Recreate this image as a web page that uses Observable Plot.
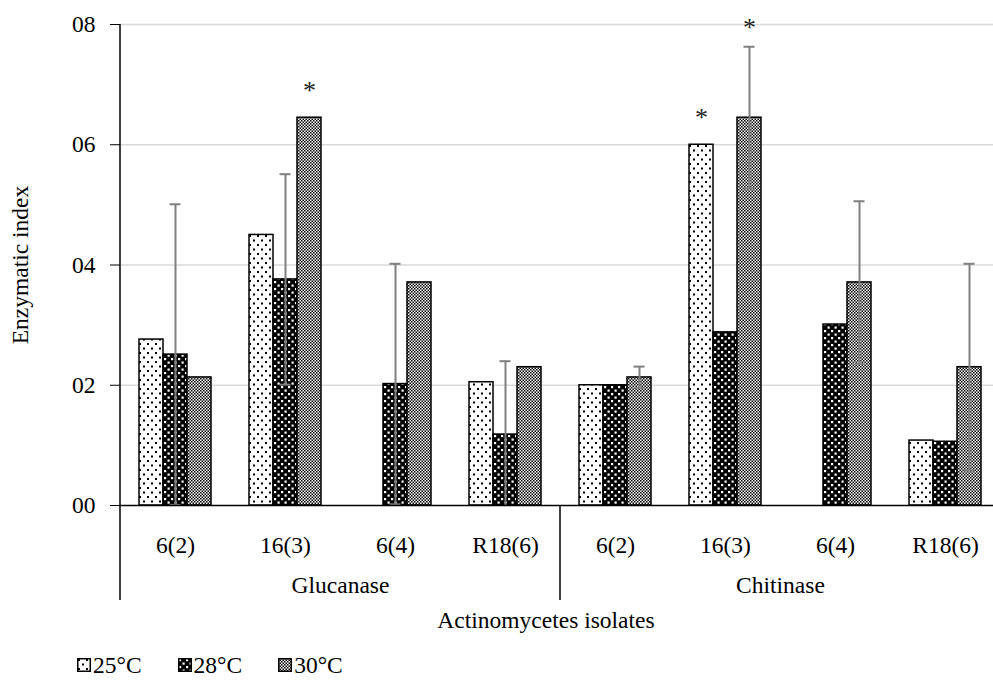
<!DOCTYPE html>
<html>
<head>
<meta charset="utf-8">
<script src="https://cdn.jsdelivr.net/npm/d3@7"></script>
<script src="https://cdn.jsdelivr.net/npm/@observablehq/plot@0.6"></script>
<style>
  html, body { margin: 0; padding: 0; background: #fff; overflow: hidden; }
  body { position: relative; width: 993px; height: 682px; font-family: "Liberation Serif", "Times New Roman", serif; color: #000; }
  #chart { position: absolute; left: 0; top: 0; }
  #xtitle { position: absolute; top: 606px; left: 546px; transform: translateX(-50%); font-size: 23.5px; line-height: 28px; white-space: nowrap; }
  #legend { position: absolute; top: 651px; left: 77px; display: flex; gap: 36px; font-size: 23.5px; line-height: 28px; }
  .item { display: flex; align-items: center; gap: 2px; }
  .item svg { display: block; }
</style>
</head>
<body>
<div id="chart"></div>
<div id="xtitle"></div>
<div id="legend"></div>
<script>
// ---- data ----
const enzymes = ["Glucanase", "Chitinase"];
const isolates = ["6(2)", "16(3)", "6(4)", "R18(6)"];
const temps = ["25°C", "28°C", "30°C"];
const glucanase25 = [2.76, 4.50, null, 2.05];
const glucanase28 = [2.51, 3.76, 2.02, 1.18];
const glucanase30 = [2.13, 6.45, 3.71, 2.30];
const chitinase25 = [2.00, 6.00, null, 1.08];
const chitinase28 = [2.00, 2.88, 3.01, 1.06];
const chitinase30 = [2.13, 6.45, 3.71, 2.30];
// error bars: Glucanase on 28°C, Chitinase on 30°C
const glucanaseErrTemp = "28°C";
const glucanaseErr = [2.50, 1.75, 2.00, 1.22];
const chitinaseErrTemp = "30°C";
const chitinaseErr = [0.18, 1.18, 1.35, 1.72];
// significance asterisks: [enzyme, isolate, temperature]
const significant = [["Glucanase", "16(3)", "30°C"], ["Chitinase", "16(3)", "25°C"], ["Chitinase", "16(3)", "30°C"]];
const yTicks = [0, 2, 4, 6, 8];
const yTickLabels = ["00", "02", "04", "06", "08"];
const yLabel = "Enzymatic index";
const xLabel = "Actinomycetes isolates";

// ---- tables ----
const series = {
  Glucanase: {"25°C": glucanase25, "28°C": glucanase28, "30°C": glucanase30},
  Chitinase: {"25°C": chitinase25, "28°C": chitinase28, "30°C": chitinase30}
};
const errors = {
  Glucanase: {temp: glucanaseErrTemp, err: glucanaseErr},
  Chitinase: {temp: chitinaseErrTemp, err: chitinaseErr}
};
const keyOf = (e, i) => e + "|" + i;
const keys = enzymes.flatMap(e => isolates.map(i => keyOf(e, i)));
const rows = [];
enzymes.forEach(e => temps.forEach(t => isolates.forEach((iso, k) => {
  const v = series[e][t][k];
  if (v != null) rows.push({key: keyOf(e, iso), enzyme: e, isolate: iso, temp: t, value: v});
})));
const errRows = [];
enzymes.forEach(e => isolates.forEach((iso, k) => {
  const t = errors[e].temp, v = series[e][t][k], er = errors[e].err[k];
  errRows.push({key: keyOf(e, iso), temp: t, lo: Math.max(0, v - er), hi: v + er});
}));
const starRows = significant.map(([e, iso, t]) => {
  const k = isolates.indexOf(iso);
  const v = series[e][t][k];
  const hasErr = errors[e].temp === t;
  return {key: keyOf(e, iso), temp: t, top: hasErr ? v + errors[e].err[k] : v, hasErr};
});
const groupRows = enzymes.map(e => ({key: keyOf(e, isolates[1]), enzyme: e}));
const patternId = {"25°C": "p25", "28°C": "p28", "30°C": "p30"};
const FS = 23.5;

const plot = Plot.plot({
  width: 993,
  height: 610,
  marginLeft: 118,
  marginRight: -9,
  marginTop: 24,
  marginBottom: 105,
  style: {fontFamily: "'Liberation Serif', 'Times New Roman', serif", fontSize: FS + "px", color: "#000", background: "transparent", overflow: "visible"},
  fx: {domain: keys, padding: 0, label: null},
  x: {domain: temps, paddingInner: 0, paddingOuter: 0.71, axis: null},
  y: {domain: [0, 8], label: null},
  marks: [
    Plot.gridY(yTicks.filter(t => t > 0), {stroke: "#d9d9d9", strokeOpacity: 1, strokeWidth: 1.5}),
    ...temps.map(t => Plot.barY(rows.filter(d => d.temp === t), {
      fx: "key", x: "temp", y: "value",
      fill: `url(#${patternId[t]})`, stroke: "#000", strokeWidth: 1.5
    })),
    Plot.ruleX(errRows, {fx: "key", x: "temp", y1: "lo", y2: "hi", stroke: "#7f7f7f", strokeWidth: 2}),
    Plot.tickY(errRows, {fx: "key", x: "temp", y: "hi", stroke: "#7f7f7f", strokeWidth: 2, insetLeft: 6.5, insetRight: 6.5}),
    Plot.tickY(errRows.filter(d => d.lo > 0), {fx: "key", x: "temp", y: "lo", stroke: "#7f7f7f", strokeWidth: 2, insetLeft: 6.5, insetRight: 6.5}),
    Plot.text(starRows.filter(d => !d.hasErr), {fx: "key", x: "temp", y: "top", text: () => "*", dy: -27, fontSize: 26, fill: "#222"}),
    Plot.text(starRows.filter(d => d.hasErr), {fx: "key", x: "temp", y: "top", text: () => "*", dy: -19, fontSize: 26, fill: "#222"}),
    Plot.ruleY([0], {stroke: "#000", strokeWidth: 1.5}),
    Plot.axisY({
      ticks: yTicks,
      tickFormat: d => yTickLabels[yTicks.indexOf(d)],
      tickSize: 10, tickPadding: 15,
      label: yLabel, labelAnchor: "center", labelOffset: 109, labelArrow: "none",
      fontSize: FS
    }),
    Plot.axisFx({
      anchor: "bottom",
      tickFormat: k => k.split("|")[1],
      tickSize: 0, tickPadding: 31,
      label: null,
      fontSize: FS
    }),
    Plot.text(groupRows, {fx: "key", text: "enzyme", frameAnchor: "bottom-right", textAnchor: "middle", lineAnchor: "middle", dy: 80, fontSize: FS, fill: "#000"})
  ]
});

// pattern fills (Excel-style hatch)
d3.select(plot).insert("defs", ":first-child").html(`
  <pattern id="p25" patternUnits="userSpaceOnUse" width="8" height="9">
    <rect width="8" height="9" fill="#fff"/>
    <rect x="1" y="1" width="2" height="2" fill="#000"/>
    <rect x="5" y="5.5" width="2" height="2" fill="#000"/>
  </pattern>
  <pattern id="p28" patternUnits="userSpaceOnUse" width="7" height="7">
    <rect width="7" height="7" fill="#000"/>
    <rect x="1" y="1" width="2.2" height="2.2" fill="#fff"/>
    <rect x="4.5" y="4.5" width="2.2" height="2.2" fill="#fff"/>
  </pattern>
  <pattern id="p30" patternUnits="userSpaceOnUse" width="3" height="3">
    <rect width="3" height="3" fill="#fff"/>
    <rect x="0" y="0" width="1.5" height="1.5" fill="#000"/>
    <rect x="1.5" y="1.5" width="1.5" height="1.5" fill="#000"/>
  </pattern>
`);

// axis lines from the plot's own scales
const fxS = plot.scale("fx"), yS = plot.scale("y");
const fxPos = k => fxS.apply(k);
const y0 = yS.apply(0), yTop = yS.apply(8);
const g = d3.select(plot).append("g").attr("stroke", "#000").attr("stroke-width", 1.5);
g.append("line").attr("x1", fxPos(keys[0])).attr("x2", fxPos(keys[0])).attr("y1", yTop).attr("y2", y0);
enzymes.forEach(e => {
  const x = fxPos(keyOf(e, isolates[0]));
  g.append("line").attr("x1", x).attr("x2", x).attr("y1", y0).attr("y2", y0 + 95);
});

document.getElementById("chart").appendChild(plot);
document.getElementById("xtitle").textContent = xLabel;

// legend
const legend = document.getElementById("legend");
temps.forEach(t => {
  const item = document.createElement("div");
  item.className = "item";
  item.innerHTML = `<svg width="14" height="14"><rect x="0.75" y="0.75" width="12.5" height="12.5" fill="url(#${patternId[t]})" stroke="#000" stroke-width="1.5"/></svg><span>${t}</span>`;
  legend.appendChild(item);
});
</script>
</body>
</html>
